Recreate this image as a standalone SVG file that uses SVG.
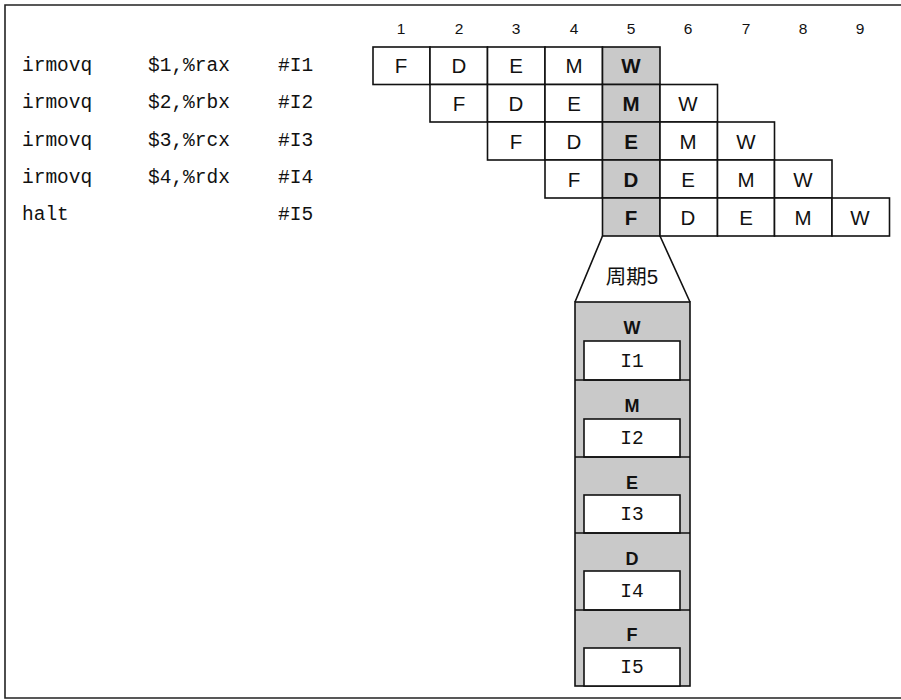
<svg xmlns="http://www.w3.org/2000/svg" width="901" height="700" viewBox="0 0 901 700">
<style>
.code{font-family:"Liberation Mono","DejaVu Sans Mono",monospace;font-size:19.5px;fill:#111}
.cell{fill:#fff;stroke:#111;stroke-width:1.6}
.sh{fill:#c9c9c9;stroke:#111;stroke-width:1.6}
.lt{font-family:"Liberation Sans",Arial,sans-serif;font-size:20.5px;fill:#111;text-anchor:middle}
.bd{font-weight:bold}
.st{font-family:"Liberation Sans",Arial,sans-serif;font-size:18px;font-weight:bold;fill:#111;text-anchor:middle}
.num{font-family:"Liberation Sans",Arial,sans-serif;font-size:15.5px;fill:#111;text-anchor:middle}
.lab{font-family:"Liberation Mono","DejaVu Sans Mono",monospace;font-size:19.5px;fill:#111;text-anchor:middle}
.cn{font-family:"Liberation Sans","Noto Sans CJK SC",sans-serif;font-size:20.5px;fill:#111;text-anchor:middle}
.ln{fill:none;stroke:#111;stroke-width:1.6}
</style>
<rect x="0" y="0" width="901" height="700" fill="#fff"/>
<path d="M905,5 H5 V698 H905" fill="none" stroke="#222" stroke-width="1.6"/>

<g id="code">
<text class="code" x="22" y="71">irmovq</text><text class="code" x="148" y="71">$1,%rax</text><text class="code" x="278" y="71">#I1</text>
<text class="code" x="22" y="108">irmovq</text><text class="code" x="148" y="108">$2,%rbx</text><text class="code" x="278" y="108">#I2</text>
<text class="code" x="22" y="146">irmovq</text><text class="code" x="148" y="146">$3,%rcx</text><text class="code" x="278" y="146">#I3</text>
<text class="code" x="22" y="183">irmovq</text><text class="code" x="148" y="183">$4,%rdx</text><text class="code" x="278" y="183">#I4</text>
<text class="code" x="22" y="220">halt</text><text class="code" x="278" y="220">#I5</text>
</g>

<g id="cycles">
<text class="num" x="401" y="34">1</text><text class="num" x="459" y="34">2</text><text class="num" x="516" y="34">3</text><text class="num" x="574" y="34">4</text><text class="num" x="631" y="34">5</text><text class="num" x="688" y="34">6</text><text class="num" x="746" y="34">7</text><text class="num" x="803" y="34">8</text><text class="num" x="860" y="34">9</text>
</g>

<g id="row-I1">
<rect class="cell" x="373" y="47" width="57" height="37.5"/><rect class="cell" x="430" y="47" width="57.5" height="37.5"/><rect class="cell" x="487.5" y="47" width="57.5" height="37.5"/><rect class="cell" x="545" y="47" width="57.5" height="37.5"/><rect class="sh" x="602.5" y="47" width="57.5" height="37.5"/>
<text class="lt" x="401" y="73">F</text><text class="lt" x="459" y="73">D</text><text class="lt" x="516" y="73">E</text><text class="lt" x="574" y="73">M</text><text class="lt bd" x="631" y="73">W</text>
</g>
<g id="row-I2">
<rect class="cell" x="430" y="84.5" width="57.5" height="37.5"/><rect class="cell" x="487.5" y="84.5" width="57.5" height="37.5"/><rect class="cell" x="545" y="84.5" width="57.5" height="37.5"/><rect class="sh" x="602.5" y="84.5" width="57.5" height="37.5"/><rect class="cell" x="660" y="84.5" width="57.5" height="37.5"/>
<text class="lt" x="459" y="110.5">F</text><text class="lt" x="516" y="110.5">D</text><text class="lt" x="574" y="110.5">E</text><text class="lt bd" x="631" y="110.5">M</text><text class="lt" x="688" y="110.5">W</text>
</g>
<g id="row-I3">
<rect class="cell" x="487.5" y="122" width="57.5" height="38"/><rect class="cell" x="545" y="122" width="57.5" height="38"/><rect class="sh" x="602.5" y="122" width="57.5" height="38"/><rect class="cell" x="660" y="122" width="57.5" height="38"/><rect class="cell" x="717.5" y="122" width="57" height="38"/>
<text class="lt" x="516" y="148.5">F</text><text class="lt" x="574" y="148.5">D</text><text class="lt bd" x="631" y="148.5">E</text><text class="lt" x="688" y="148.5">M</text><text class="lt" x="746" y="148.5">W</text>
</g>
<g id="row-I4">
<rect class="cell" x="545" y="160" width="57.5" height="38"/><rect class="sh" x="602.5" y="160" width="57.5" height="38"/><rect class="cell" x="660" y="160" width="57.5" height="38"/><rect class="cell" x="717.5" y="160" width="57" height="38"/><rect class="cell" x="774.5" y="160" width="57.5" height="38"/>
<text class="lt" x="574" y="186.5">F</text><text class="lt bd" x="631" y="186.5">D</text><text class="lt" x="688" y="186.5">E</text><text class="lt" x="746" y="186.5">M</text><text class="lt" x="803" y="186.5">W</text>
</g>
<g id="row-I5">
<rect class="sh" x="602.5" y="198" width="57.5" height="38"/><rect class="cell" x="660" y="198" width="57.5" height="38"/><rect class="cell" x="717.5" y="198" width="57" height="38"/><rect class="cell" x="774.5" y="198" width="57.5" height="38"/><rect class="cell" x="832" y="198" width="57.5" height="38"/>
<text class="lt bd" x="631" y="224.5">F</text><text class="lt" x="688" y="224.5">D</text><text class="lt" x="746" y="224.5">E</text><text class="lt" x="803" y="224.5">M</text><text class="lt" x="860" y="224.5">W</text>
</g>

<g id="connectors">
<path class="ln" d="M602.5,236 L575,302 M660,236 L690,302"/>
</g>
<g id="cycle5-label">
<text class="cn" x="632" y="284">周期5</text>
</g>

<g id="stack">
<rect class="sh" x="575" y="302" width="115" height="384" stroke-width="2"/>
<g id="stage-W">
<rect class="cell" x="584" y="341" width="96" height="39"/>
<text class="st" x="632" y="333.5">W</text><text class="lab" x="632" y="367">I1</text>
</g>
<g id="stage-M">
<line class="ln" x1="575" y1="380" x2="690" y2="380" stroke-width="2"/>
<rect class="cell" x="584" y="419" width="96" height="38"/>
<text class="st" x="632" y="411.5">M</text><text class="lab" x="632" y="444">I2</text>
</g>
<g id="stage-E">
<line class="ln" x1="575" y1="457" x2="690" y2="457" stroke-width="2"/>
<rect class="cell" x="584" y="495" width="96" height="38"/>
<text class="st" x="632" y="488.5">E</text><text class="lab" x="632" y="520">I3</text>
</g>
<g id="stage-D">
<line class="ln" x1="575" y1="533" x2="690" y2="533" stroke-width="2"/>
<rect class="cell" x="584" y="571" width="96" height="39"/>
<text class="st" x="632" y="564.5">D</text><text class="lab" x="632" y="597">I4</text>
</g>
<g id="stage-F">
<line class="ln" x1="575" y1="610" x2="690" y2="610" stroke-width="2"/>
<rect class="cell" x="584" y="648" width="96" height="38"/>
<text class="st" x="632" y="640.5">F</text><text class="lab" x="632" y="673">I5</text>
</g>
</g>
</svg>
